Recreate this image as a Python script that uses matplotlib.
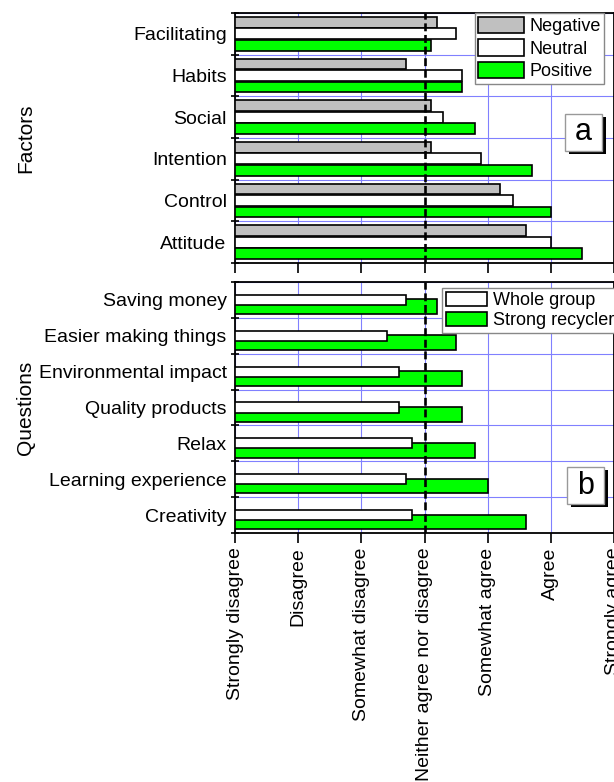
import matplotlib
matplotlib.use("Agg")
import matplotlib.pyplot as plt
import numpy as np
from matplotlib.patches import Rectangle
from matplotlib.ticker import FixedLocator

plt.rcParams["font.family"] = ["Liberation Sans", "DejaVu Sans"]

# panel a: factors
factors = ["Facilitating", "Habits", "Social", "Intention", "Control", "Attitude"]
negative = [4.2, 3.7, 4.1, 4.1, 5.2, 5.6]
neutral = [4.5, 4.6, 4.3, 4.9, 5.4, 6.0]
positive = [4.1, 4.6, 4.8, 5.7, 6.0, 6.5]

# panel b: questions
questions = ["Saving money", "Easier making things", "Environmental impact",
             "Quality products", "Relax", "Learning experience", "Creativity"]
whole_group = [3.7, 3.4, 3.6, 3.6, 3.8, 3.7, 3.8]
strong_recyclers = [4.2, 4.5, 4.6, 4.6, 4.8, 5.0, 5.6]

scale_labels = ["Strongly disagree", "Disagree", "Somewhat disagree",
                "Neither agree nor disagree", "Somewhat agree", "Agree", "Strongly agree"]
scale_values = [1, 2, 3, 4, 5, 6, 7]

GRID = "#8080ff"
GREEN = "#00ff00"
GRAY = "#c0c0c0"
FS = 14

W, H = 614, 782
fig = plt.figure(figsize=(W / 100, H / 100), dpi=100)


def fx(px):
    return px / W


def fy(py):
    return 1 - py / H


ax1 = fig.add_axes([fx(235), fy(263), fx(614) - fx(235), fy(13) - fy(263)])
ax2 = fig.add_axes([fx(235), fy(533), fx(614) - fx(235), fy(282) - fy(533)])


def style_axis(ax, labels):
    n = len(labels)
    ax.set_xlim(1, 7)
    ax.set_ylim(n - 0.5, -0.5)
    ax.set_yticks(np.arange(n))
    ax.set_yticklabels(labels, fontsize=FS)
    ax.yaxis.set_minor_locator(FixedLocator(np.arange(n + 1) - 0.5))
    ax.tick_params(axis="y", which="major", length=0, pad=6)
    ax.tick_params(axis="y", which="minor", direction="inout", length=6, width=1.2)
    ax.set_xticks(scale_values)
    ax.tick_params(axis="x", which="major", direction="out", length=7, width=1.2)
    ax.grid(True, axis="x", which="major", color=GRID, lw=0.8, zorder=0)
    ax.grid(True, axis="y", which="minor", color=GRID, lw=0.8, zorder=0)
    ax.set_axisbelow(True)
    for s in ax.spines.values():
        s.set_linewidth(1.3)
    ax.axvline(4, color="black", lw=1.9, dashes=(3.0, 1.4), zorder=5)
    ax.yaxis.set_label_coords((35 - 235) / (614 - 235), 0.5)


# panel a bars
y1 = np.arange(len(factors))
h1 = 0.26
ax1.barh(y1 - 0.275, np.array(negative) - 1, left=1, height=h1, color=GRAY,
         edgecolor="black", lw=1.2, label="Negative", zorder=3)
ax1.barh(y1, np.array(neutral) - 1, left=1, height=h1, color="white",
         edgecolor="black", lw=1.2, label="Neutral", zorder=3)
ax1.barh(y1 + 0.275, np.array(positive) - 1, left=1, height=h1, color=GREEN,
         edgecolor="black", lw=1.2, label="Positive", zorder=3)
style_axis(ax1, factors)
ax1.tick_params(axis="x", labelbottom=False)
ax1.set_ylabel("Factors", fontsize=FS + 1)

# panel b bars
y2 = np.arange(len(questions))
ax2.barh(y2 + 0.19, np.array(strong_recyclers) - 1, left=1, height=0.41, color=GREEN,
         edgecolor="black", lw=1.2, label="Strong recyclers", zorder=3)
ax2.barh(y2, np.array(whole_group) - 1, left=1, height=0.28, color="white",
         edgecolor="black", lw=1.2, label="Whole group", zorder=4)
style_axis(ax2, questions)
ax2.set_xticklabels(scale_labels, rotation=90, fontsize=FS, va="top")
ax2.set_ylabel("Questions", fontsize=FS + 1)

# legends
leg1 = ax1.legend(loc="upper right", bbox_to_anchor=(fx(604), fy(13)),
                  bbox_transform=fig.transFigure, fontsize=13, frameon=True,
                  fancybox=False, edgecolor="#888888", framealpha=1,
                  handlelength=2.5, handleheight=1.0, labelspacing=0.25,
                  handletextpad=0.3, borderpad=0.2, borderaxespad=0)
leg1.get_frame().set_linewidth(1.0)

h, l = ax2.get_legend_handles_labels()
leg2 = ax2.legend([h[1], h[0]], [l[1], l[0]], loc="upper left",
                  bbox_to_anchor=(fx(442), fy(288)), bbox_transform=fig.transFigure,
                  fontsize=13, frameon=True, fancybox=False, edgecolor="#888888",
                  framealpha=1, handlelength=2.3, handleheight=0.85, labelspacing=0.15,
                  handletextpad=0.3, borderpad=0.2, borderaxespad=0)
leg2.get_frame().set_linewidth(1.0)


def panel_tag(letter, x0, y0):
    w, hh = 37, 37
    fig.patches.append(Rectangle((fx(x0 + 4), fy(y0 + hh + 3)), fx(w), fy(0) - fy(hh),
                                 transform=fig.transFigure, facecolor="black",
                                 edgecolor="none", zorder=10))
    fig.patches.append(Rectangle((fx(x0), fy(y0 + hh)), fx(w), fy(0) - fy(hh),
                                 transform=fig.transFigure, facecolor="white",
                                 edgecolor="#999999", lw=1.0, zorder=11))
    fig.text(fx(x0 + w / 2), fy(y0 + hh / 2), letter, fontsize=22,
             ha="center", va="center", zorder=12)


panel_tag("a", 565, 114)
panel_tag("b", 567, 467)

fig.savefig("out.png", dpi=100)
